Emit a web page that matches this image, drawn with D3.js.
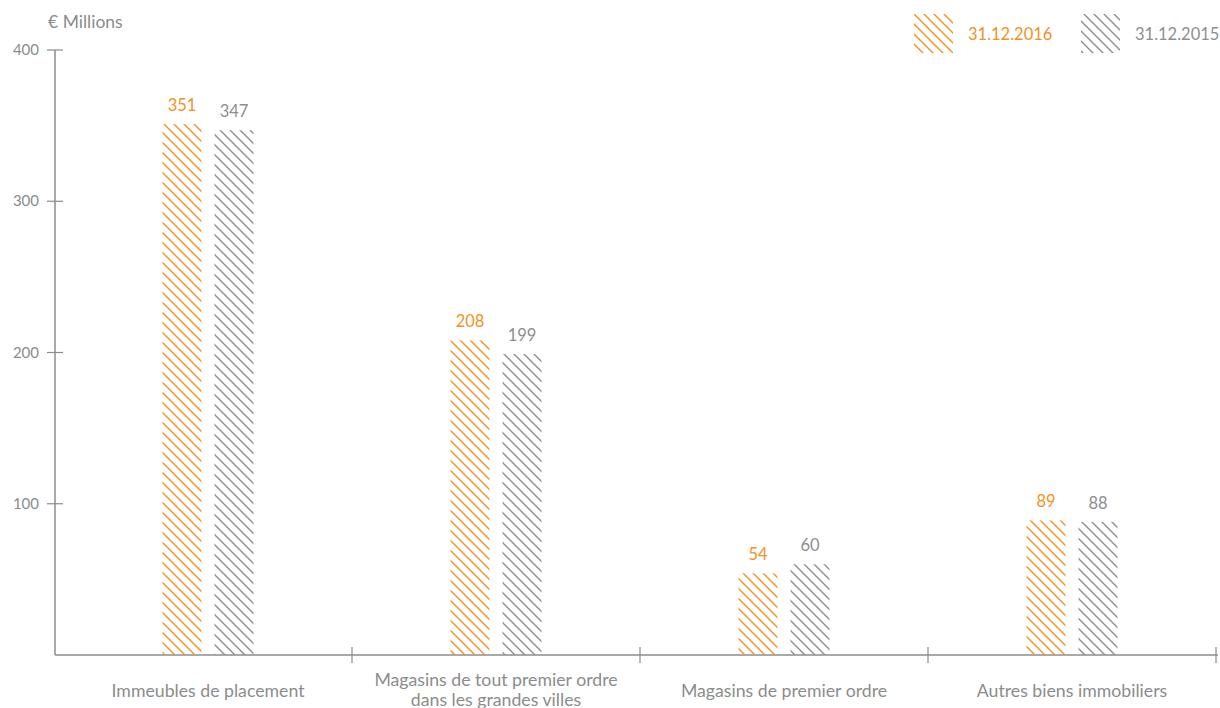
<!DOCTYPE html>
<html>
<head>
<meta charset="utf-8">
<script src="https://cdn.jsdelivr.net/npm/d3@7"></script>
<style>
  body { margin: 0; background: #fff; }
  svg text { font-family: "Source Sans Pro", Lato, "Noto Sans", sans-serif; }
</style>
</head>
<body>
<div id="chart"></div>
<script>
// chart data
const categories = [
  ["Immeubles de placement"],
  ["Magasins de tout premier ordre", "dans les grandes villes"],
  ["Magasins de premier ordre"],
  ["Autres biens immobiliers"]
];
const seriesNames = ["31.12.2016", "31.12.2015"];
const values2016 = [351, 208, 54, 89];
const values2015 = [347, 199, 60, 88];
const yTicks = [100, 200, 300, 400];

const width = 1220, height = 708;
const orange = "#f39125";
const grey = "#8e8e8e";
const axisCol = "#8c8c8c";

const svg = d3.select("#chart").append("svg")
  .attr("width", width)
  .attr("height", height);

// hatch patterns
const defs = svg.append("defs");
[["hatch0", orange], ["hatch1", grey]].forEach(([id, col]) => {
  const p = defs.append("pattern")
    .attr("id", id)
    .attr("patternUnits", "userSpaceOnUse")
    .attr("width", 10).attr("height", 10);
  p.append("path")
    .attr("d", "M-1,-1 L11,11 M-1,9 L1,11 M9,-1 L11,1")
    .attr("stroke", col)
    .attr("stroke-width", 1.4)
    .attr("fill", "none");
});

const x = d3.scaleBand()
  .domain(d3.range(categories.length))
  .range([64, 1216]);
const y = d3.scaleLinear().domain([0, 400]).range([655, 50]);
const barW = 39, gap = 13;

// y axis
const g = svg.append("g");
g.append("line")
  .attr("x1", 55).attr("x2", 55)
  .attr("y1", y(400)).attr("y2", y(0))
  .attr("stroke", axisCol).attr("stroke-width", 1.5);
g.selectAll(".ytick").data(yTicks).enter().append("line")
  .attr("x1", 47).attr("x2", 63)
  .attr("y1", d => y(d)).attr("y2", d => y(d))
  .attr("stroke", axisCol).attr("stroke-width", 1.2);
g.selectAll(".ylab").data(yTicks).enter().append("text")
  .attr("x", 39).attr("y", d => y(d) + 5)
  .attr("text-anchor", "end")
  .attr("fill", axisCol).attr("font-size", 15)
  .text(d => d);
g.append("text")
  .attr("x", 48).attr("y", 28)
  .attr("fill", axisCol).attr("font-size", 17.5)
  .text("€ Millions");

// x axis
g.append("line")
  .attr("x1", 55).attr("x2", 1218)
  .attr("y1", y(0)).attr("y2", y(0))
  .attr("stroke", axisCol).attr("stroke-width", 1.5);
const bounds = d3.range(1, categories.length + 1).map(i => x.range()[0] + i * x.bandwidth());
g.selectAll(".xtick").data(bounds).enter().append("line")
  .attr("x1", d => d).attr("x2", d => d)
  .attr("y1", y(0) - 8).attr("y2", y(0) + 8)
  .attr("stroke", axisCol).attr("stroke-width", 1.2);

const xl = g.selectAll(".xlab").data(categories).enter().append("text")
  .attr("x", (d, i) => x(i) + x.bandwidth() / 2)
  .attr("y", d => d.length > 1 ? 686 : 697)
  .attr("text-anchor", "middle")
  .attr("fill", axisCol).attr("font-size", 17.7);
xl.selectAll("tspan").data(d => d).enter().append("tspan")
  .attr("x", function() { return this.parentNode.getAttribute("x"); })
  .attr("dy", (d, i) => i === 0 ? 0 : 20)
  .text(d => d);

// bars
const series = [values2016, values2015];
const colors = [orange, grey];
series.forEach((vals, s) => {
  const bx = i => x(i) + x.bandwidth() / 2 - barW - gap / 2 + s * (barW + gap);
  svg.selectAll(".bar" + s).data(vals).enter().append("rect")
    .attr("x", (d, i) => bx(i))
    .attr("y", d => y(d))
    .attr("width", barW)
    .attr("height", d => y(0) - y(d))
    .attr("fill", `url(#hatch${s})`);
  svg.selectAll(".val" + s).data(vals).enter().append("text")
    .attr("x", (d, i) => bx(i) + barW / 2)
    .attr("y", d => y(d) - 13)
    .attr("text-anchor", "middle")
    .attr("fill", colors[s]).attr("font-size", 16.5)
    .text(d => d);
});

// legend
const legX = [914, 1081];
seriesNames.forEach((name, s) => {
  svg.append("rect")
    .attr("x", legX[s]).attr("y", 14)
    .attr("width", 39).attr("height", 39)
    .attr("fill", `url(#hatch${s})`);
  svg.append("text")
    .attr("x", legX[s] + 54).attr("y", 40)
    .attr("fill", colors[s]).attr("font-size", 16.5)
    .text(name);
});
</script>
</body>
</html>
